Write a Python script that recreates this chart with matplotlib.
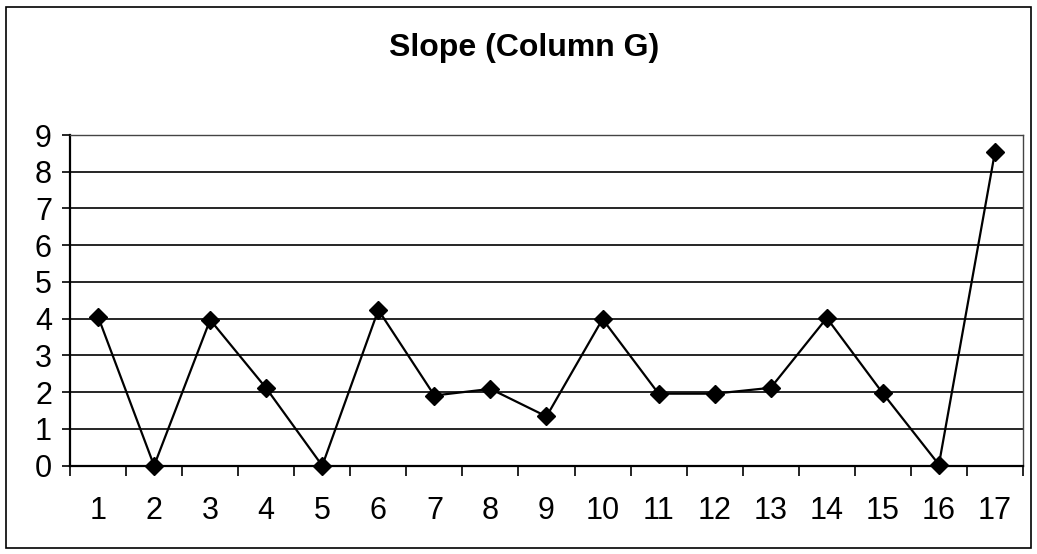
import numpy as np
import matplotlib
matplotlib.use("Agg")
from matplotlib import pyplot as plt
from matplotlib.patches import Rectangle

# data
categories = [str(i) for i in range(1, 18)]
slope = [4.06, 0.0, 3.97, 2.11, 0.0, 4.24, 1.91, 2.09, 1.34, 3.99,
         1.96, 1.96, 2.12, 4.02, 1.97, 0.03, 8.54]
y_ticks = list(range(0, 10))

plt.rcParams['font.family'] = ['Liberation Sans', 'DejaVu Sans']

fig = plt.figure(figsize=(10.37, 5.54), dpi=100)
ax = fig.add_axes([0.0675, 0.1594, 0.919, 0.5969])

x = np.arange(1, len(categories) + 1)
ax.plot(x, slope, color='black', linewidth=1.6, marker='D',
        markersize=9, markerfacecolor='black', markeredgecolor='black',
        clip_on=False, zorder=3)

ax.set_xlim(0.5, len(categories) + 0.5)
ax.set_ylim(0, 9)
ax.set_yticks(y_ticks)
ax.yaxis.grid(True, color='black', linewidth=1.2)
ax.set_axisbelow(True)

# category labels centred, tick marks between categories
ax.set_xticks(x)
ax.set_xticklabels(categories)
ax.set_xticks(np.arange(0.5, len(categories) + 1), minor=True)
ax.tick_params(axis='x', which='major', length=0, pad=22, labelsize=22)
ax.tick_params(axis='x', which='minor', length=7, width=1.2, direction='out')
ax.tick_params(axis='y', length=6, width=1.2, pad=7, labelsize=22)

for side in ['left', 'bottom']:
    ax.spines[side].set_linewidth(1.6)
for side in ['top', 'right']:
    ax.spines[side].set_linewidth(1.0)
    ax.spines[side].set_color('#444444')

fig.text(0.505, 0.913, 'Slope (Column G)', ha='center', va='center',
         fontsize=23, fontweight='bold')

# outer chart border
fig.patches.append(Rectangle((0.006, 0.01), 0.988, 0.978, transform=fig.transFigure,
                             fill=False, edgecolor='black', linewidth=1.2))

fig.savefig('out.png', dpi=100)
